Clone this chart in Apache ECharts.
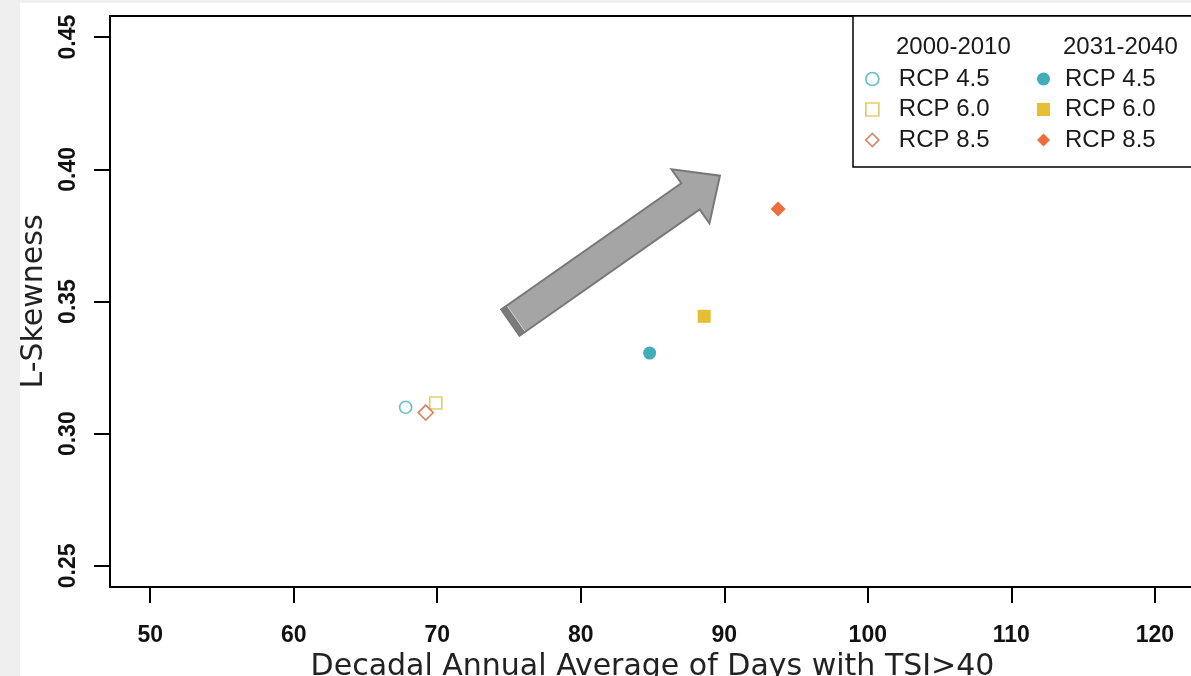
<!DOCTYPE html>
<html>
<head>
<meta charset="utf-8">
<script src="https://cdn.jsdelivr.net/npm/echarts@6/dist/echarts.min.js"></script>
<style>
  html, body { margin: 0; padding: 0; background: #efefef; overflow: hidden; }
  #chart { position: absolute; left: 20px; top: 3px; width: 1171px; height: 673px; background: #fff; }
</style>
</head>
<body>
<div id="chart"></div>
<script>
// values
const xTicks = [50, 60, 70, 80, 90, 100, 110, 120];
const yTicks = [0.25, 0.30, 0.35, 0.40, 0.45];
const periods = ['2000-2010', '2031-2040'];
const scenarios = ['RCP 4.5', 'RCP 6.0', 'RCP 8.5'];
const days2000 = [67.8, 69.9, 69.2];
const skew2000 = [0.310, 0.3116, 0.308];
const days2031 = [84.8, 88.6, 93.75];
const skew2031 = [0.3305, 0.3444, 0.385];
// trend arrow (tail, tip) in data units
const arrowTail = [75.1, 0.342];
const arrowTip = [89.7, 0.3976];

const symbols = ['circle', 'rect', 'diamond'];
const openColors = ['#3fb2c2', '#e2bd45', '#c9683e'];
const fillColors = ['#1198a8', '#dfae00', '#e8480e'];
const openSizes = [12, 12, 15];
const fillSizes = [13, 13, 15];

const labelFont = 'Liberation Sans, Arial, sans-serif';
const titleFont = 'DejaVu Sans, sans-serif';

const chart = echarts.init(document.getElementById('chart'));

function openStyle(i) {
  return { color: '#fff', borderColor: openColors[i], borderWidth: 1.7 };
}
function fillStyle(i) {
  return { color: fillColors[i], borderWidth: 0 };
}

const series = [];
scenarios.forEach((s, i) => {
  series.push({
    name: periods[0] + '|' + s,
    type: 'scatter',
    symbol: symbols[i],
    symbolSize: openSizes[i],
    itemStyle: openStyle(i),
    z: 3,
    data: [[days2000[i], skew2000[i]]]
  });
});
scenarios.forEach((s, i) => {
  series.push({
    name: periods[1] + '|' + s,
    type: 'scatter',
    symbol: symbols[i],
    symbolSize: fillSizes[i],
    itemStyle: fillStyle(i),
    z: 3,
    data: [[days2031[i], skew2031[i]]]
  });
});

// the big grey arrow
series.push({
  type: 'custom',
  silent: true,
  z: 2,
  data: [[arrowTail[0], arrowTail[1], arrowTip[0], arrowTip[1]]],
  renderItem: function (params, api) {
    var a = api.coord([api.value(0), api.value(1)]);
    var b = api.coord([api.value(2), api.value(3)]);
    var dx = b[0] - a[0], dy = b[1] - a[1];
    var len = Math.sqrt(dx * dx + dy * dy);
    var ux = dx / len, uy = dy / len, nx = -uy, ny = ux;
    var sw = 16, hw = 33, hl = 36;
    var hx = b[0] - ux * hl, hy = b[1] - uy * hl;
    function P(x, y, along, side) {
      return [x + ux * along + nx * side, y + uy * along + ny * side];
    }
    var body = [P(a[0], a[1], 0, sw), P(hx, hy, 0, sw), P(hx, hy, 0, hw), b,
      P(hx, hy, 0, -hw), P(hx, hy, 0, -sw), P(a[0], a[1], 0, -sw)];
    var cap = [P(a[0], a[1], 0, sw), P(a[0], a[1], 6, sw), P(a[0], a[1], 6, -sw), P(a[0], a[1], 0, -sw)];
    var l1 = P(a[0], a[1], 7, sw - 1), l2 = P(a[0], a[1], 7, -sw + 1);
    return {
      type: 'group',
      children: [
        { type: 'polygon', shape: { points: body }, style: { fill: '#a5a5a5', stroke: '#787878', lineWidth: 2 } },
        { type: 'polygon', shape: { points: cap }, style: { fill: '#7b7b7b', stroke: '#787878', lineWidth: 1 } },
        { type: 'line', shape: { x1: l1[0], y1: l1[1], x2: l2[0], y2: l2[1] }, style: { stroke: '#d0d0d0', lineWidth: 1 } }
      ]
    };
  }
});

function legendFor(p) {
  return {
    orient: 'vertical',
    left: p ? 1012 : 840,
    top: 59,
    itemWidth: 13,
    itemHeight: 13,
    itemGap: 6.5,
    z: 6,
    selectedMode: false,
    data: scenarios.map((s, i) => ({
      name: periods[p] + '|' + s,
      icon: symbols[i],
      itemStyle: p ? fillStyle(i) : openStyle(i)
    })),
    formatter: n => n.split('|')[1],
    textStyle: { fontSize: 24, fontFamily: labelFont, color: '#1a1a1a', padding: [0, 0, 0, p ? 10 : 15] }
  };
}

const option = {
  animation: false,
  grid: {
    left: 90, top: 13, right: -4, bottom: 89,
    show: true, borderColor: '#000', borderWidth: 2, backgroundColor: '#fff',
    outerBoundsMode: 'none'
  },
  xAxis: {
    type: 'value', min: 47.2, max: 122.8,
    name: 'Decadal Annual Average of Days with TSI>40',
    nameLocation: 'middle', nameGap: 56,
    nameTextStyle: { fontSize: 30, fontFamily: titleFont, color: '#222' },
    axisLine: { show: true, onZero: false, lineStyle: { color: '#000', width: 2 } },
    axisTick: { show: true, length: 16, customValues: xTicks, lineStyle: { color: '#000', width: 2 } },
    axisLabel: { customValues: xTicks, fontSize: 23, fontWeight: 'bold', fontFamily: labelFont, color: '#111', margin: 37 },
    splitLine: { show: false }
  },
  yAxis: {
    type: 'value', min: 0.242, max: 0.458,
    name: 'L-Skewness',
    nameLocation: 'middle', nameGap: 61,
    nameTextStyle: { fontSize: 30, fontFamily: titleFont, color: '#222' },
    axisLine: { show: true, onZero: false, lineStyle: { color: '#000', width: 2 } },
    axisTick: { show: true, length: 16, customValues: yTicks, lineStyle: { color: '#000', width: 2 } },
    axisLabel: {
      customValues: yTicks, rotate: 90, margin: 30,
      formatter: v => v.toFixed(2),
      fontSize: 23, fontWeight: 'bold', fontFamily: labelFont, color: '#111'
    },
    splitLine: { show: false }
  },
  legend: [legendFor(0), legendFor(1)],
  graphic: [
    { type: 'rect', z: 4, shape: { x: 833, y: 13, width: 400, height: 151 },
      style: { fill: '#fff', stroke: '#000', lineWidth: 1.5 } },
    { type: 'text', z: 7, x: 876, y: 32,
      style: { text: periods[0], fontSize: 24, fontFamily: labelFont, fill: '#1a1a1a' } },
    { type: 'text', z: 7, x: 1043, y: 32,
      style: { text: periods[1], fontSize: 24, fontFamily: labelFont, fill: '#1a1a1a' } }
  ],
  series: series
};

chart.setOption(option);
</script>
</body>
</html>
